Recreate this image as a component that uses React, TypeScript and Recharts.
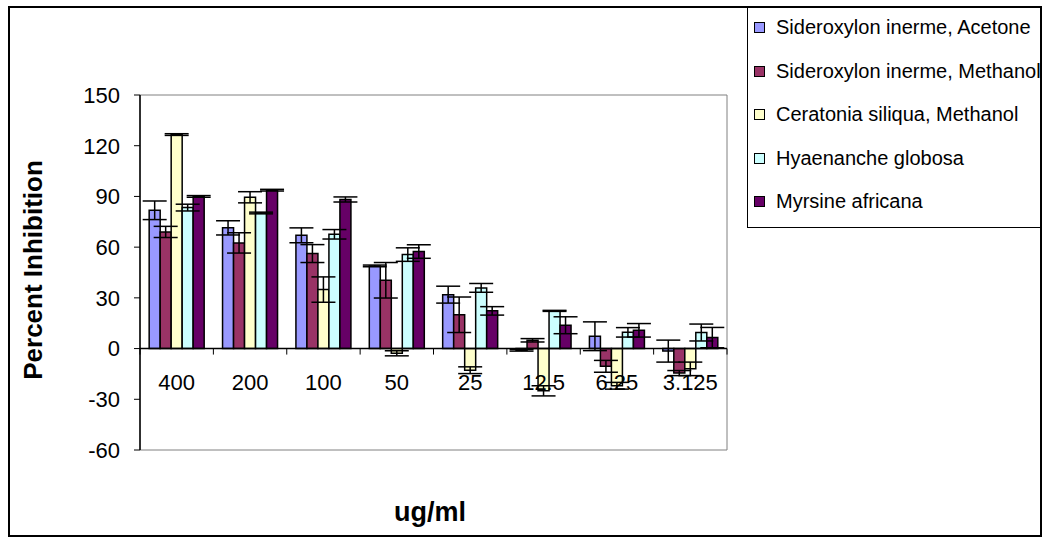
import { Bar, BarChart, ErrorBar, Legend, ReferenceArea, ReferenceLine, XAxis, YAxis } from "recharts"

const categories = ["400", "200", "100", "50", "25", "12.5", "6.25", "3.125"]

const acetone = [81.8, 71.4, 67, 48.9, 31.9, -1, 7.3, -1.5]
const acetoneErr = [5.5, 4.2, 4.4, 0.5, 5, 0.5, 8.5, 6.5]
const methanol = [69, 62.5, 56.2, 40.4, 20, 4.9, -10.5, -14.5]
const methanolErr = [3.3, 6, 5.3, 10.5, 10.5, 1, 3.5, 1.5]
const ceratonia = [126.6, 89.5, 34.9, -2.8, -12.8, -25, -22, -12]
const ceratoniaErr = [0.5, 3.3, 7.5, 1.5, 2, 3, 2, 4]
const hyaenanche = [83.4, 80.2, 67.6, 55.6, 35.9, 22.3, 9.6, 9.5]
const hyaenancheErr = [2, 0.5, 2.8, 4, 2.6, 0.3, 2.8, 5]
const myrsine = [90, 93.7, 88.2, 57.4, 22.3, 13.8, 10.8, 6.5]
const myrsineErr = [0.5, 0.5, 1.5, 4, 2.5, 5, 4, 6]

const yTicks = [-60, -30, 0, 30, 60, 90, 120, 150]

const series = [
  { key: "acetone", name: "Sideroxylon inerme, Acetone", color: "#9999FF" },
  { key: "methanol", name: "Sideroxylon inerme, Methanol", color: "#993366" },
  { key: "ceratonia", name: "Ceratonia siliqua, Methanol", color: "#FFFFCC" },
  { key: "hyaenanche", name: "Hyaenanche globosa", color: "#CCFFFF" },
  { key: "myrsine", name: "Myrsine africana", color: "#660066" },
]

const data = categories.map((c, i) => ({
  conc: c,
  acetone: acetone[i],
  acetoneErr: acetoneErr[i],
  methanol: methanol[i],
  methanolErr: methanolErr[i],
  ceratonia: ceratonia[i],
  ceratoniaErr: ceratoniaErr[i],
  hyaenanche: hyaenanche[i],
  hyaenancheErr: hyaenancheErr[i],
  myrsine: myrsine[i],
  myrsineErr: myrsineErr[i],
}))

const W = 1045
const H = 539
const margin = { top: 95, right: 318, bottom: 88, left: 60 }
const Y_AXIS_W = 80
const X_AXIS_H = 1
const PLOT_W = W - margin.left - Y_AXIS_W - margin.right
const PLOT_H = H - margin.top - margin.bottom - X_AXIS_H
const Y_MIN = -60
const Y_MAX = 150
const ZERO_Y = margin.top + (PLOT_H * Y_MAX) / (Y_MAX - Y_MIN)
const BAND = PLOT_W / categories.length
const FONT = "'Liberation Sans', Arial, sans-serif"

function CategoryTick(props: any) {
  const { x, payload, index } = props
  return (
    <g>
      <line x1={x - BAND / 2} x2={x - BAND / 2} y1={ZERO_Y} y2={ZERO_Y + 6} stroke="#000" />
      {index === categories.length - 1 && (
        <line x1={x + BAND / 2} x2={x + BAND / 2} y1={ZERO_Y} y2={ZERO_Y + 6} stroke="#000" />
      )}
      <text x={x} y={ZERO_Y + 41} textAnchor="middle" fontSize={22} fontFamily={FONT} fill="#000">
        {payload.value}
      </text>
    </g>
  )
}

function LegendBox() {
  return (
    <div
      style={{
        width: "100%",
        height: "100%",
        boxSizing: "border-box",
        borderLeft: "1px solid #000",
        borderBottom: "1px solid #000",
        fontFamily: FONT,
        fontSize: 20,
        overflow: "hidden",
      }}
    >
      {series.map((s) => (
        <div key={s.key} style={{ display: "flex", alignItems: "center", height: 43.5, marginLeft: 6 }}>
          <span
            style={{
              display: "inline-block",
              flex: "none",
              width: 9,
              height: 9,
              background: s.color,
              border: "1px solid #000",
              marginRight: 11,
            }}
          />
          <span style={{ whiteSpace: "nowrap", color: "#000" }}>{s.name}</span>
        </div>
      ))}
    </div>
  )
}

export default function App() {
  return (
    <div style={{ position: "absolute", left: 0, top: 0, width: W, height: H, background: "#fff" }}>
      <div
        style={{
          position: "absolute",
          left: 8,
          top: 6,
          width: 1034,
          height: 531,
          border: "2px solid #000",
          boxSizing: "border-box",
        }}
      />
      <div style={{ position: "absolute", left: 0, top: 0 }}>
        <BarChart width={W} height={H} data={data} margin={margin} barGap={0} barCategoryGap="12.5%">
          <ReferenceArea y1={Y_MIN} y2={Y_MAX} fill="none" stroke="#808080" strokeWidth={1} ifOverflow="visible" />
          <XAxis
            dataKey="conc"
            height={X_AXIS_H}
            axisLine={false}
            tickLine={false}
            tick={<CategoryTick />}
            interval={0}
            label={{
              content: () => (
                <text x={430} y={521} textAnchor="middle" fontSize={27} fontWeight="bold" fontFamily={FONT} fill="#000">
                  ug/ml
                </text>
              ),
            }}
          />
          <YAxis
            width={Y_AXIS_W}
            domain={[Y_MIN, Y_MAX]}
            ticks={yTicks}
            interval={0}
            axisLine={{ stroke: "#000", strokeWidth: 1.5 }}
            tickLine={{ stroke: "#000" }}
            tickSize={6}
            tickMargin={14}
            tick={{ fontSize: 22, fill: "#000", fontFamily: FONT }}
            label={{
              content: () => (
                <text
                  x={0}
                  y={0}
                  transform="translate(42 270) rotate(-90)"
                  textAnchor="middle"
                  fontSize={26}
                  fontWeight="bold"
                  fontFamily={FONT}
                  fill="#000"
                >
                  Percent Inhibition
                </text>
              ),
            }}
          />
          <ReferenceLine y={0} stroke="#000" strokeWidth={1.5} />
          {series.map((s) => (
            <Bar key={s.key} dataKey={s.key} name={s.name} fill={s.color} stroke="#000" strokeWidth={1.5} isAnimationActive={false}>
              <ErrorBar dataKey={`${s.key}Err`} width={12} stroke="#000" strokeWidth={1.5} />
            </Bar>
          ))}
          <Legend
            layout="vertical"
            align="center"
            verticalAlign="middle"
            content={() => <LegendBox />}
            wrapperStyle={{ left: 747, top: 6, width: 295, height: 222 }}
          />
        </BarChart>
      </div>
    </div>
  )
}
